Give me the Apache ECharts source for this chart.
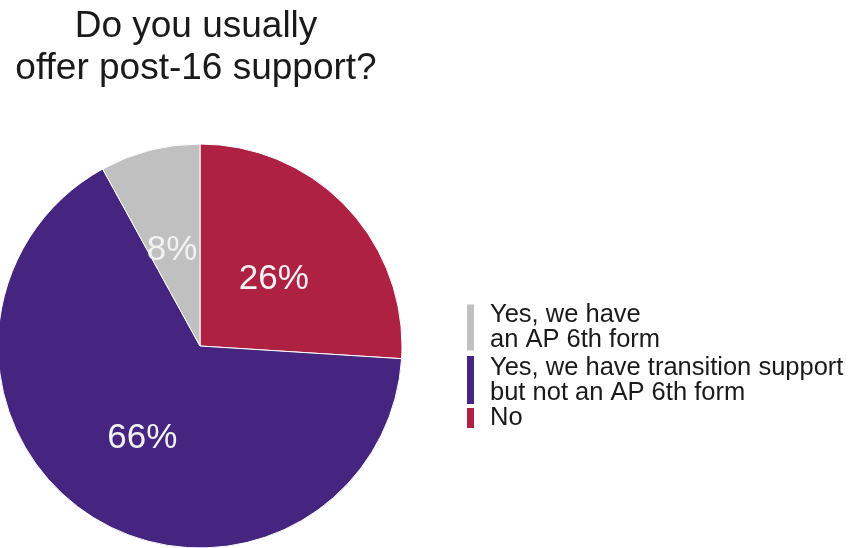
<!DOCTYPE html>
<html>
<head>
<meta charset="utf-8">
<script src="https://cdn.jsdelivr.net/npm/echarts@6/dist/echarts.min.js"></script>
<style>
  html, body { margin: 0; padding: 0; background: #ffffff; }
  #chart { width: 850px; height: 548px; }
</style>
</head>
<body>
<div id="chart"></div>
<script>
// Survey answers, in clockwise order from 12 o'clock
const categories = ['No', 'Yes, we have transition support but not an AP 6th form', 'Yes, we have an AP 6th form'];
const shares = [26, 66, 8];
const colors = ['#ae2143', '#452580', '#c0c0c0'];
// Legend wording (broken over lines as shown in the key)
const legendLabels = {
  'Yes, we have an AP 6th form': 'Yes, we have\nan AP 6th form',
  'Yes, we have transition support but not an AP 6th form': 'Yes, we have transition support\nbut not an AP 6th form',
  'No': 'No'
};

const font = '"Liberation Sans", Arial, sans-serif';

function legendFor(name, top, height) {
  return {
    data: [name],
    left: 465,
    top: top,
    orient: 'vertical',
    padding: 0,
    icon: 'rect',
    itemWidth: 9,
    itemHeight: height,
    selectedMode: false,
    formatter: n => legendLabels[n],
    textStyle: {
      fontFamily: font,
      fontSize: 25.5,
      lineHeight: 25,
      color: '#1a1a1a',
      padding: [0, 0, 0, 10]
    }
  };
}

const chart = echarts.init(document.getElementById('chart'), null, { renderer: 'canvas' });
chart.setOption({
  animation: false,
  backgroundColor: '#ffffff',
  title: {
    text: 'Do you usually\noffer post-16 support?',
    left: 196,
    top: 6,
    textAlign: 'center',
    padding: 0,
    textStyle: {
      fontFamily: font,
      fontSize: 37,
      lineHeight: 42,
      fontWeight: 'normal',
      color: '#1a1a1a'
    }
  },
  legend: [
    legendFor(categories[2], 302, 48),
    legendFor(categories[1], 354, 50),
    legendFor(categories[0], 405, 22)
  ],
  series: [{
    type: 'pie',
    center: [200, 346],
    radius: 202,
    startAngle: 90,
    clockwise: true,
    silent: true,
    label: {
      position: 'inside',
      formatter: '{c}%',
      fontFamily: font,
      fontSize: 35,
      color: '#f2f2f2',
      offset: [-2, 5]
    },
    labelLine: { show: false },
    itemStyle: { borderColor: '#ffffff', borderWidth: 1 },
    data: categories.map((name, i) => ({
      name: name,
      value: shares[i],
      itemStyle: { color: colors[i] }
    }))
  }]
});
</script>
</body>
</html>
